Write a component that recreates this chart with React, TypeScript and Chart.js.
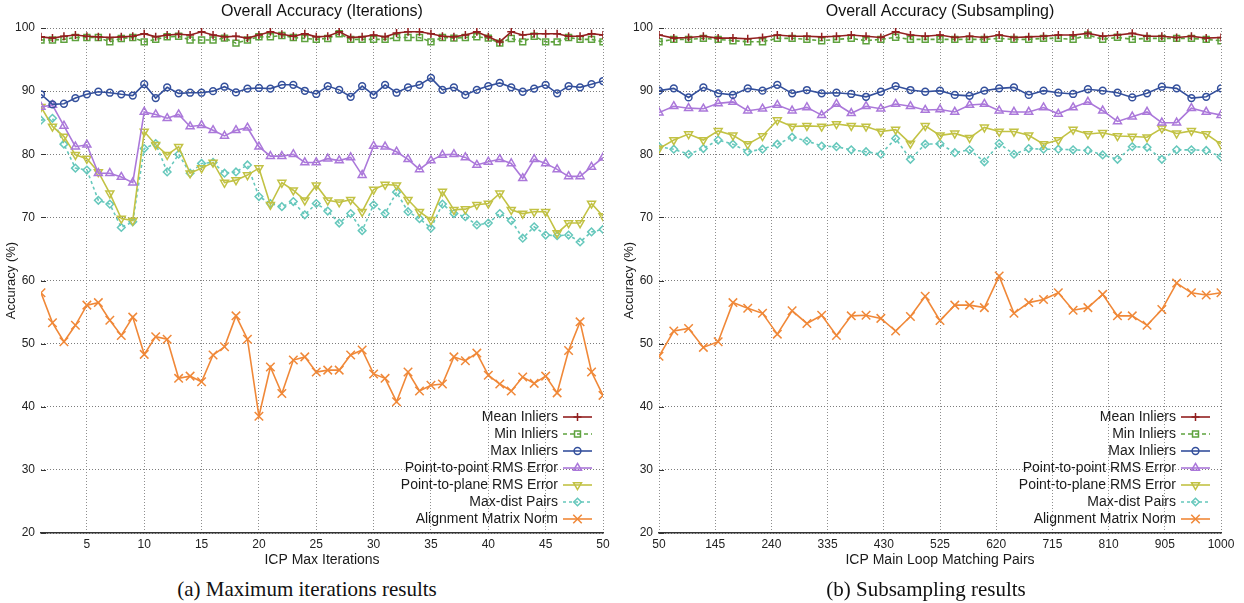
import React, { useEffect, useRef } from 'react';
import { Chart, registerables } from 'chart.js';
import { drawPoint } from 'chart.js/helpers';

Chart.register(...registerables);
Chart.defaults.font.family = '"Liberation Sans", Arial, Helvetica, sans-serif';
Chart.defaults.color = '#222';

// ---------- categories / ticks ----------
const iterations = [1, 2, 3, 4, 5, 6, 7, 8, 9, 10, 11, 12, 13, 14, 15, 16, 17, 18, 19, 20, 21, 22, 23, 24, 25,
  26, 27, 28, 29, 30, 31, 32, 33, 34, 35, 36, 37, 38, 39, 40, 41, 42, 43, 44, 45, 46, 47, 48, 49, 50];
const iterationTicks = [5, 10, 15, 20, 25, 30, 35, 40, 45, 50];
const pairs = [50, 75, 100, 125, 150, 175, 200, 225, 250, 275, 300, 325, 350, 375, 400, 425, 450, 475, 500,
  525, 550, 575, 600, 625, 650, 675, 700, 725, 750, 775, 800, 825, 850, 875, 900, 925, 950, 975, 1000];
const pairTicks = [50, 145, 240, 335, 430, 525, 620, 715, 810, 905, 1000];
const accuracyTicks = [20, 30, 40, 50, 60, 70, 80, 90, 100];

// ---------- (a) iterations ----------
const meanInliersIter = [98.6, 98.4, 98.7, 98.9, 98.7, 98.6, 98.5, 98.6, 98.7, 99.1, 98.6, 98.9, 99.0, 98.9, 99.4,
  98.9, 98.6, 98.7, 98.4, 98.9, 99.4, 99.0, 98.7, 99.1, 98.6, 98.7, 99.4, 98.5, 98.6, 98.9, 98.6, 99.2, 99.4, 99.4,
  99.1, 98.7, 98.6, 98.9, 99.4, 98.6, 97.8, 99.4, 98.9, 99.1, 99.1, 99.1, 98.7, 98.7, 99.1, 98.9];
const minInliersIter = [98.1, 98.1, 98.2, 98.5, 98.5, 98.5, 97.8, 98.35, 98.5, 97.8, 98.2, 98.6, 98.7, 98.1, 98.1,
  98.1, 98.4, 97.6, 98.1, 98.6, 98.6, 98.8, 98.5, 98.35, 98.2, 98.35, 99.1, 98.2, 98.2, 98.2, 98.2, 98.5, 98.5, 98.5,
  97.8, 98.5, 98.4, 98.5, 98.6, 98.4, 97.6, 98.35, 97.8, 98.7, 97.8, 97.8, 98.5, 98.2, 98.2, 97.8];
const maxInliersIter = [89.5, 87.9, 88.0, 88.9, 89.5, 89.9, 89.75, 89.5, 89.3, 91.1, 88.9, 90.6, 89.65, 89.75, 89.75,
  90.0, 90.7, 89.8, 90.4, 90.5, 90.4, 91.0, 91.0, 90.05, 89.55, 90.8, 90.2, 89.1, 90.8, 89.4, 91.0, 89.75, 90.6, 91.0,
  92.1, 90.2, 90.6, 89.4, 90.2, 90.8, 91.3, 90.6, 89.9, 90.4, 91.0, 89.65, 90.8, 90.6, 91.1, 91.6];
const p2pIter = [87.5, 87.8, 84.5, 81.2, 81.5, 77.0, 77.0, 76.4, 75.5, 86.7, 86.3, 85.7, 86.3, 84.4, 84.6, 83.8, 82.9,
  83.8, 84.2, 81.2, 79.7, 79.7, 80.0, 78.7, 78.7, 79.3, 79.0, 79.5, 76.7, 81.3, 81.2, 80.4, 79.2, 77.6, 79.0, 79.9,
  80.0, 79.5, 78.3, 78.8, 79.2, 78.55, 76.2, 79.2, 78.55, 77.6, 76.5, 76.5, 78.0, 79.45];
const p2planeIter = [87.5, 84.4, 82.8, 79.9, 79.3, 77.2, 73.8, 69.8, 69.5, 83.6, 81.5, 79.9, 81.2, 77.0, 77.8, 78.7,
  75.5, 75.9, 76.7, 77.8, 72.0, 75.5, 74.3, 72.7, 75.1, 72.7, 72.4, 72.8, 70.9, 74.4, 75.2, 75.1, 72.8, 70.9, 69.6,
  74.1, 71.2, 71.3, 72.0, 72.2, 73.8, 71.2, 70.6, 70.9, 70.9, 67.5, 69.1, 69.1, 72.2, 70.2];
const maxDistIter = [85.4, 85.7, 81.6, 77.8, 77.5, 72.7, 72.1, 68.4, 69.3, 80.9, 81.7, 77.2, 80.0, 77.0, 78.55, 78.7,
  77.0, 77.2, 78.3, 73.3, 72.2, 71.7, 72.5, 70.4, 72.2, 71.0, 69.1, 70.6, 67.9, 72.0, 70.6, 74.0, 70.9, 69.8, 68.3,
  72.1, 70.6, 70.1, 68.8, 69.1, 70.6, 69.5, 66.7, 68.5, 67.2, 67.1, 67.2, 66.1, 67.7, 68.1];
const alignNormIter = [58.05, 53.3, 50.3, 52.9, 56.1, 56.5, 53.7, 51.3, 54.2, 48.3, 51.1, 50.7, 44.5, 44.85, 43.95,
  48.2, 49.5, 54.4, 50.7, 38.5, 46.3, 42.1, 47.4, 47.9, 45.5, 45.8, 45.8, 48.2, 49.0, 45.2, 44.5, 40.8, 45.5, 42.5,
  43.4, 43.6, 47.9, 47.3, 48.5, 45.0, 43.6, 42.5, 44.7, 43.7, 44.85, 42.2, 48.9, 53.45, 45.5, 41.8];

// ---------- (b) subsampling ----------
const meanInliersSub = [98.9, 98.4, 98.5, 98.7, 98.4, 98.4, 98.3, 98.5, 98.9, 98.7, 98.7, 98.6, 98.7, 98.9, 98.7,
  98.5, 99.4, 98.9, 98.7, 98.9, 98.5, 98.7, 98.5, 98.9, 98.5, 98.6, 98.7, 98.9, 98.9, 99.15, 98.7, 98.9, 99.15, 98.7,
  98.7, 98.5, 98.7, 98.4, 98.5];
const minInliersSub = [97.83, 98.2, 98.2, 98.36, 98.2, 97.99, 97.83, 97.83, 98.36, 98.36, 98.2, 97.99, 98.2, 98.36,
  97.99, 98.2, 98.52, 98.2, 98.2, 98.2, 98.2, 98.2, 98.2, 98.36, 98.2, 98.2, 98.36, 98.36, 98.2, 98.89, 98.2, 98.52,
  98.2, 98.36, 98.36, 98.36, 98.36, 98.2, 97.99];
const maxInliersSub = [90.07, 90.44, 89.0, 90.6, 89.65, 89.4, 90.44, 90.07, 91.0, 89.65, 90.17, 89.65, 89.75, 89.55,
  89.1, 89.9, 90.8, 90.17, 89.9, 90.07, 89.4, 89.25, 90.07, 90.44, 90.6, 89.4, 90.07, 89.75, 89.55, 90.3, 90.07,
  89.75, 89.0, 89.65, 90.7, 90.44, 88.9, 89.1, 90.44];
const p2pSub = [86.6, 87.6, 87.3, 87.2, 88.06, 88.3, 86.9, 87.2, 87.8, 86.9, 87.43, 86.2, 87.96, 86.5, 87.6, 87.2,
  87.96, 87.6, 87.0, 87.1, 86.7, 87.8, 87.96, 86.9, 86.7, 86.7, 87.4, 86.4, 87.4, 88.3, 86.9, 85.2, 85.95, 86.7,
  85.0, 85.0, 87.3, 86.7, 86.2];
const p2planeSub = [80.9, 82.25, 83.2, 82.25, 83.7, 83.0, 81.6, 82.9, 85.4, 84.4, 84.5, 84.4, 84.8, 84.5, 84.4, 83.6,
  83.9, 81.7, 84.5, 83.0, 83.3, 82.6, 84.26, 83.6, 83.6, 83.0, 81.6, 82.25, 83.9, 83.2, 83.4, 82.9, 82.8, 82.7, 84.1,
  83.3, 83.7, 83.2, 81.6];
const maxDistSub = [81.2, 80.8, 80.0, 80.9, 82.25, 81.6, 80.4, 80.8, 81.6, 82.7, 82.1, 81.3, 81.2, 80.7, 80.4, 80.0,
  82.5, 79.2, 81.6, 81.65, 80.25, 80.7, 78.8, 81.7, 80.0, 80.9, 80.8, 80.8, 80.7, 80.6, 79.9, 79.2, 81.2, 81.1, 79.2,
  80.7, 80.7, 80.6, 79.6];
const alignNormSub = [48.0, 52.0, 52.4, 49.4, 50.3, 56.5, 55.6, 54.8, 51.5, 55.2, 53.2, 54.5, 51.3, 54.4, 54.5, 54.0,
  52.0, 54.3, 57.5, 53.65, 56.1, 56.1, 55.7, 60.7, 54.8, 56.5, 57.0, 58.05, 55.3, 55.7, 57.8, 54.4, 54.4, 52.9, 55.4,
  59.6, 58.05, 57.7, 58.05];

// ---------- series appearance ----------
const seriesLabels = ['Mean Inliers', 'Min Inliers', 'Max Inliers', 'Point-to-point RMS Error',
  'Point-to-plane RMS Error', 'Max-dist Pairs', 'Alignment Matrix Norm'];
const seriesColors = ['#921f1f', '#5ea23e', '#34509c', '#ab78da', '#c2c244', '#66c8bc', '#f08838'];
const seriesDash: number[][] = [[], [4, 3], [], [], [], [3, 3], []];
const seriesPointStyle = ['cross', 'rect', 'circle', 'triangle', 'triangle', 'rectRot', 'crossRot'];
const seriesRotation = [0, 0, 0, 0, 180, 0, 0];
const seriesRadius = [4, 4.2, 3.4, 4.6, 4.6, 3.8, 6];

const CANVAS_W = 626;
const CANVAS_H = 575;
const AXIS_W = 41;
const XAXIS_H = 42;

const insidePlugin = {
  id: 'insideDecor',
  beforeDatasetsDraw(chart: any) {
    const { ctx, chartArea, scales } = chart;
    ctx.save();
    ctx.strokeStyle = '#333';
    ctx.lineWidth = 1;
    ctx.setLineDash([]);
    accuracyTicks.forEach((v) => {
      const y = Math.round(scales.y.getPixelForValue(v)) + 0.5;
      ctx.beginPath();
      ctx.moveTo(chartArea.left, y);
      ctx.lineTo(chartArea.left + 5, y);
      ctx.stroke();
    });
    ctx.restore();
  },
  afterDatasetsDraw(chart: any) {
    const { ctx, chartArea } = chart;
    const ds = chart.data.datasets;
    const n = ds.length;
    ctx.save();
    ctx.font = '14px "Liberation Sans", Arial, Helvetica, sans-serif';
    ctx.textAlign = 'right';
    ctx.textBaseline = 'middle';
    ds.forEach((d: any, i: number) => {
      const y = chartArea.bottom - 14 - (n - 1 - i) * 17;
      ctx.fillStyle = '#1a1a1a';
      ctx.fillText(d.label, chartArea.right - 45, y);
      const x0 = chartArea.right - 40;
      const x1 = chartArea.right - 11;
      ctx.strokeStyle = d.borderColor;
      ctx.lineWidth = d.borderWidth;
      ctx.setLineDash(d.borderDash || []);
      ctx.beginPath();
      ctx.moveTo(x0, y);
      ctx.lineTo(x1, y);
      ctx.stroke();
      ctx.setLineDash([]);
      ctx.fillStyle = 'rgba(0,0,0,0)';
      ctx.lineWidth = d.pointBorderWidth;
      drawPoint(ctx, { pointStyle: d.pointStyle, rotation: d.pointRotation, radius: d.pointRadius, borderWidth: d.pointBorderWidth } as any, (x0 + x1) / 2, y);
    });
    ctx.restore();
  },
};

type PanelProps = {
  xs: number[];
  xTicks: number[];
  series: number[][];
  title: string;
  xTitle: string;
  left: number;
};

function Panel({ xs, xTicks, series, title, xTitle, left }: PanelProps) {
  const ref = useRef<HTMLCanvasElement>(null);
  useEffect(() => {
    if (!ref.current) return;
    const datasets = series.map((vals, k) => ({
      label: seriesLabels[k],
      data: vals.map((v, i) => ({ x: xs[i], y: v })),
      borderColor: seriesColors[k],
      backgroundColor: 'rgba(0,0,0,0)',
      borderWidth: 1.6,
      borderDash: seriesDash[k],
      pointStyle: seriesPointStyle[k],
      pointRotation: seriesRotation[k],
      pointRadius: seriesRadius[k],
      pointBorderWidth: 1.5,
      pointBorderColor: seriesColors[k],
      pointBackgroundColor: 'rgba(0,0,0,0)',
      tension: 0,
      fill: false,
    }));
    const chart = new Chart(ref.current, {
      type: 'line',
      data: { datasets },
      options: {
        animation: false,
        responsive: false,
        events: [],
        layout: { padding: { left: 0, right: CANVAS_W - 603, top: 0, bottom: 0 } },
        plugins: {
          legend: { display: false },
          tooltip: { enabled: false },
          title: {
            display: true,
            text: title,
            fullSize: false,
            color: '#111',
            font: { size: 16, weight: 'normal' },
            padding: { top: 2, bottom: 6.8 },
          },
        },
        scales: {
          x: {
            type: 'linear',
            min: xs[0],
            max: xs[xs.length - 1],
            afterBuildTicks: (s: any) => { s.ticks = xTicks.map((v) => ({ value: v })); },
            afterFit: (s: any) => { s.height = XAXIS_H; },
            grid: { color: '#8e8e8e', lineWidth: 1, drawTicks: false },
            border: { display: true, color: '#333', width: 1.5, dash: [1, 2] },
            ticks: { padding: 4, color: '#222', font: { size: 12 }, autoSkip: false, maxRotation: 0, callback: (v: any) => String(v) },
            title: { display: true, text: xTitle, color: '#1a1a1a', font: { size: 14 }, padding: { top: 0, bottom: 6 } },
          },
          y: {
            type: 'linear',
            min: 20,
            max: 100,
            afterBuildTicks: (s: any) => { s.ticks = accuracyTicks.map((v) => ({ value: v })); },
            afterFit: (s: any) => { s.width = AXIS_W; },
            grid: { color: '#7c7c7c', lineWidth: 1, drawTicks: false },
            border: { display: false, dash: [1, 2] },
            ticks: { padding: 6, color: '#222', font: { size: 12 }, callback: (v: any) => String(v) },
            title: { display: true, text: 'Accuracy (%)', color: '#1a1a1a', font: { size: 13 }, padding: { top: 4, bottom: 0 } },
          },
        },
      } as any,
      plugins: [insidePlugin],
    });
    return () => chart.destroy();
  }, []);
  return (
    <canvas
      ref={ref}
      width={CANVAS_W}
      height={CANVAS_H}
      style={{ position: 'absolute', left, top: 0, width: CANVAS_W, height: CANVAS_H }}
    />
  );
}

const captionStyle: React.CSSProperties = {
  position: 'absolute',
  top: 576,
  width: 400,
  height: 26,
  lineHeight: '26px',
  textAlign: 'center',
  fontFamily: '"Liberation Serif", "Times New Roman", serif',
  fontSize: 21,
  color: '#111',
  whiteSpace: 'nowrap',
};

export default function App() {
  return (
    <div style={{ position: 'absolute', left: 0, top: 0, width: 1244, height: 603, background: '#fff', overflow: 'hidden' }}>
      <Panel
        xs={iterations}
        xTicks={iterationTicks}
        series={[meanInliersIter, minInliersIter, maxInliersIter, p2pIter, p2planeIter, maxDistIter, alignNormIter]}
        title="Overall Accuracy (Iterations)"
        xTitle="ICP Max Iterations"
        left={0}
      />
      <Panel
        xs={pairs}
        xTicks={pairTicks}
        series={[meanInliersSub, minInliersSub, maxInliersSub, p2pSub, p2planeSub, maxDistSub, alignNormSub]}
        title="Overall Accuracy (Subsampling)"
        xTitle="ICP Main Loop Matching Pairs"
        left={618}
      />
      <div style={{ ...captionStyle, left: 307 - 200 }}>(a) Maximum iterations results</div>
      <div style={{ ...captionStyle, left: 926 - 200 }}>(b) Subsampling results</div>
    </div>
  );
}
